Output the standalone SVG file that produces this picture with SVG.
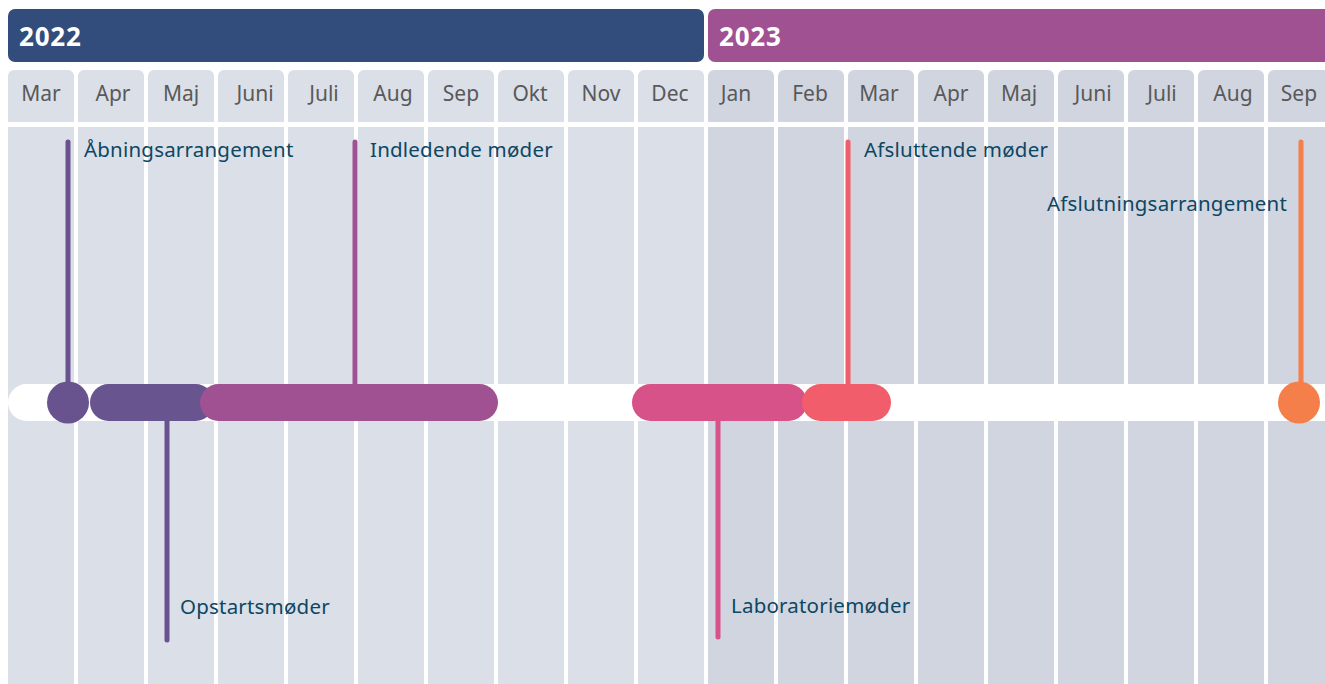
<svg xmlns="http://www.w3.org/2000/svg" xmlns:xlink="http://www.w3.org/1999/xlink" width="1325" height="684" viewBox="0 0 1325 684">
<style>
.yr{font-family:"Noto Sans","DejaVu Sans",sans-serif;font-weight:bold;font-size:26px;letter-spacing:0.8px;fill:#ffffff}
.mo{font-family:"Noto Sans","DejaVu Sans",sans-serif;font-size:21px;fill:#595959;text-anchor:middle}
.lb{font-family:"Noto Sans","DejaVu Sans",sans-serif;font-size:20.5px;letter-spacing:0.2px;fill:#0d4763}
.c22{fill:#dadfe8}
.c23{fill:#d1d5e0}
.ln{stroke-width:5;stroke-linecap:round;fill:none}
</style>
<defs>
<path id="hd" d="M0,76 a6,6 0 0 1 6,-6 h54 a6,6 0 0 1 6,6 v46 h-66 z"/>
<rect id="bd" x="0" y="127" width="66" height="560"/>
</defs>
<rect width="1325" height="684" fill="#ffffff"/>
<g id="years">
<rect x="8" y="9" width="696" height="53" rx="7" fill="#324d7c"/>
<text class="yr" x="19" y="46">2022</text>
<rect x="708" y="9" width="640" height="53" rx="7" fill="#a05192"/>
<text class="yr" x="719" y="46">2023</text>
</g>
<g id="columns">
<use href="#hd" x="8" class="c22"/><use href="#bd" x="8" class="c22"/>
<use href="#hd" x="78" class="c22"/><use href="#bd" x="78" class="c22"/>
<use href="#hd" x="148" class="c22"/><use href="#bd" x="148" class="c22"/>
<use href="#hd" x="218" class="c22"/><use href="#bd" x="218" class="c22"/>
<use href="#hd" x="288" class="c22"/><use href="#bd" x="288" class="c22"/>
<use href="#hd" x="358" class="c22"/><use href="#bd" x="358" class="c22"/>
<use href="#hd" x="428" class="c22"/><use href="#bd" x="428" class="c22"/>
<use href="#hd" x="498" class="c22"/><use href="#bd" x="498" class="c22"/>
<use href="#hd" x="568" class="c22"/><use href="#bd" x="568" class="c22"/>
<use href="#hd" x="638" class="c22"/><use href="#bd" x="638" class="c22"/>
<use href="#hd" x="708" class="c23"/><use href="#bd" x="708" class="c23"/>
<use href="#hd" x="778" class="c23"/><use href="#bd" x="778" class="c23"/>
<use href="#hd" x="848" class="c23"/><use href="#bd" x="848" class="c23"/>
<use href="#hd" x="918" class="c23"/><use href="#bd" x="918" class="c23"/>
<use href="#hd" x="988" class="c23"/><use href="#bd" x="988" class="c23"/>
<use href="#hd" x="1058" class="c23"/><use href="#bd" x="1058" class="c23"/>
<use href="#hd" x="1128" class="c23"/><use href="#bd" x="1128" class="c23"/>
<use href="#hd" x="1198" class="c23"/><use href="#bd" x="1198" class="c23"/>
<use href="#hd" x="1268" class="c23"/><use href="#bd" x="1268" class="c23"/>
<text class="mo" x="41" y="101">Mar</text>
<text class="mo" x="113" y="101">Apr</text>
<text class="mo" x="181" y="101">Maj</text>
<text class="mo" x="255" y="101">Juni</text>
<text class="mo" x="324" y="101">Juli</text>
<text class="mo" x="393" y="101">Aug</text>
<text class="mo" x="461" y="101">Sep</text>
<text class="mo" x="530" y="101">Okt</text>
<text class="mo" x="601" y="101">Nov</text>
<text class="mo" x="670" y="101">Dec</text>
<text class="mo" x="736" y="101">Jan</text>
<text class="mo" x="810" y="101">Feb</text>
<text class="mo" x="879" y="101">Mar</text>
<text class="mo" x="951" y="101">Apr</text>
<text class="mo" x="1019" y="101">Maj</text>
<text class="mo" x="1093" y="101">Juni</text>
<text class="mo" x="1162" y="101">Juli</text>
<text class="mo" x="1233" y="101">Aug</text>
<text class="mo" x="1299" y="101">Sep</text>
</g>
<g id="connectors">
<line class="ln" x1="68" y1="142" x2="68" y2="400" stroke="#68538f"/>
<line class="ln" x1="355" y1="142" x2="355" y2="390" stroke="#a05192"/>
<line class="ln" x1="848" y1="142" x2="848" y2="390" stroke="#f25d6b"/>
<line class="ln" x1="1301" y1="142" x2="1301" y2="400" stroke="#f47f4a"/>
<line class="ln" x1="167" y1="415" x2="167" y2="640" stroke="#68538f"/>
<line class="ln" x1="718" y1="415" x2="718" y2="637" stroke="#d75289"/>
</g>
<g id="timeline">
<rect x="8" y="384" width="1340" height="37" rx="18.5" fill="#ffffff"/>
</g>
<g id="aabning">
<circle cx="68" cy="402.5" r="21" fill="#68538f"/>
<text class="lb" x="84" y="157">Åbningsarrangement</text>
</g>
<g id="opstart">
<rect x="90" y="384" width="124" height="37" rx="18.5" fill="#68548f"/>
<text class="lb" x="180" y="614">Opstartsmøder</text>
</g>
<g id="indledende">
<rect x="200" y="384" width="298" height="37" rx="18.5" fill="#a05192"/>
<text class="lb" x="370" y="157">Indledende møder</text>
</g>
<g id="laboratorie">
<rect x="632" y="384" width="175" height="37" rx="18.5" fill="#d75289"/>
<text class="lb" x="731" y="613">Laboratoriemøder</text>
</g>
<g id="afsluttende">
<rect x="802" y="384" width="89" height="37" rx="18.5" fill="#f25d6b"/>
<text class="lb" x="864" y="157">Afsluttende møder</text>
</g>
<g id="afslutning">
<circle cx="1299" cy="402.5" r="21" fill="#f47f4a"/>
<text class="lb" x="1287" y="211" text-anchor="end">Afslutningsarrangement</text>
</g>
</svg>
